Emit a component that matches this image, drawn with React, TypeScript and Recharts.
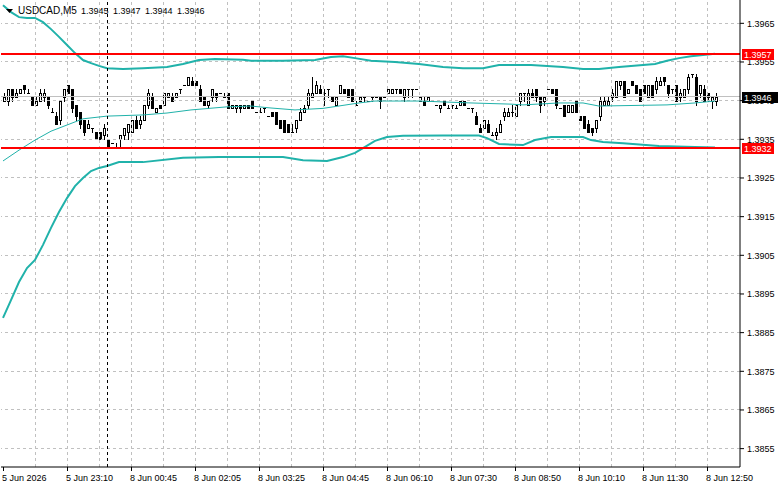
import React from 'react';
import { ComposedChart, Bar, Line, XAxis, YAxis, ReferenceLine } from 'recharts';

const FONT = '"Liberation Sans", Arial, sans-serif';

// [open, high, low, close] per M5 bar
const candles: [number, number, number, number][] = [
  [1.3945, 1.3947, 1.3945, 1.3946], [1.3945, 1.3948, 1.3944, 1.3948], [1.3948, 1.3948, 1.3945, 1.3946], [1.3946, 1.3948, 1.3946, 1.3947],
  [1.3947, 1.3948, 1.3947, 1.3948], [1.3949, 1.3949, 1.3947, 1.3948], [1.3947, 1.3948, 1.3947, 1.3947], [1.3946, 1.3946, 1.3944, 1.3944],
  [1.3944, 1.3946, 1.3944, 1.3945], [1.3945, 1.3948, 1.3945, 1.3947], [1.3946, 1.3948, 1.3945, 1.3947], [1.3946, 1.3946, 1.3943, 1.3944],
  [1.3942, 1.3943, 1.3942, 1.3942], [1.3941, 1.3942, 1.3939, 1.3939], [1.3940, 1.3945, 1.3939, 1.3945], [1.3946, 1.3948, 1.3945, 1.3948],
  [1.3949, 1.3949, 1.3947, 1.3947], [1.3948, 1.3948, 1.3942, 1.3943], [1.3944, 1.3944, 1.3940, 1.3941], [1.3942, 1.3942, 1.3938, 1.3939],
  [1.3940, 1.3940, 1.3936, 1.3937], [1.3938, 1.3940, 1.3938, 1.3939], [1.3938, 1.3938, 1.3937, 1.3938], [1.3937, 1.3937, 1.3935, 1.3935],
  [1.3937, 1.3937, 1.3935, 1.3935], [1.3936, 1.3939, 1.3935, 1.3938], [1.3935, 1.3935, 1.3933, 1.3933], [1.3934, 1.3934, 1.3934, 1.3934],
  [1.3933, 1.3934, 1.3933, 1.3933], [1.3935, 1.3936, 1.3933, 1.3936], [1.3936, 1.3938, 1.3935, 1.3938], [1.3937, 1.3939, 1.3935, 1.3939],
  [1.3937, 1.3940, 1.3937, 1.3940], [1.3940, 1.3941, 1.3938, 1.3938], [1.3939, 1.3941, 1.3938, 1.3940], [1.3940, 1.3944, 1.3940, 1.3944],
  [1.3944, 1.3948, 1.3943, 1.3947], [1.3946, 1.3947, 1.3943, 1.3943], [1.3942, 1.3943, 1.3942, 1.3943], [1.3944, 1.3944, 1.3943, 1.3943],
  [1.3944, 1.3947, 1.3944, 1.3947], [1.3946, 1.3947, 1.3946, 1.3947], [1.3946, 1.3947, 1.3945, 1.3945], [1.3946, 1.3947, 1.3946, 1.3947],
  [1.3948, 1.3948, 1.3947, 1.3948], [1.3949, 1.3949, 1.3949, 1.3949], [1.3949, 1.3951, 1.3949, 1.3951], [1.3950, 1.3951, 1.3949, 1.3949],
  [1.3950, 1.3950, 1.3949, 1.3949], [1.3948, 1.3949, 1.3945, 1.3945], [1.3946, 1.3946, 1.3944, 1.3944], [1.3944, 1.3945, 1.3943, 1.3945],
  [1.3946, 1.3948, 1.3945, 1.3948], [1.3947, 1.3947, 1.3945, 1.3946], [1.3947, 1.3947, 1.3947, 1.3947], [1.3946, 1.3947, 1.3946, 1.3946],
  [1.3947, 1.3947, 1.3943, 1.3943], [1.3943, 1.3944, 1.3943, 1.3944], [1.3943, 1.3944, 1.3942, 1.3944], [1.3944, 1.3944, 1.3942, 1.3943],
  [1.3943, 1.3944, 1.3943, 1.3944], [1.3944, 1.3944, 1.3943, 1.3943], [1.3945, 1.3945, 1.3943, 1.3943], [1.3942, 1.3942, 1.3942, 1.3942],
  [1.3942, 1.3943, 1.3942, 1.3942], [1.3943, 1.3943, 1.3942, 1.3943], [1.3941, 1.3941, 1.3941, 1.3941], [1.3942, 1.3942, 1.3941, 1.3941],
  [1.3942, 1.3942, 1.3939, 1.3939], [1.3940, 1.3940, 1.3938, 1.3938], [1.3940, 1.3940, 1.3937, 1.3937], [1.3939, 1.3939, 1.3937, 1.3937],
  [1.3937, 1.3939, 1.3937, 1.3937], [1.3938, 1.3940, 1.3937, 1.3940], [1.3940, 1.3943, 1.3940, 1.3942], [1.3942, 1.3944, 1.3942, 1.3943],
  [1.3944, 1.3948, 1.3943, 1.3947], [1.3946, 1.3951, 1.3946, 1.3947], [1.3947, 1.3950, 1.3947, 1.3949], [1.3948, 1.3949, 1.3947, 1.3947],
  [1.3947, 1.3948, 1.3944, 1.3947], [1.3948, 1.3948, 1.3946, 1.3948], [1.3946, 1.3946, 1.3945, 1.3945], [1.3944, 1.3946, 1.3944, 1.3946],
  [1.3947, 1.3949, 1.3947, 1.3949], [1.3948, 1.3948, 1.3947, 1.3947], [1.3948, 1.3948, 1.3946, 1.3946], [1.3948, 1.3948, 1.3945, 1.3945],
  [1.3944, 1.3945, 1.3944, 1.3944], [1.3945, 1.3946, 1.3945, 1.3946], [1.3946, 1.3946, 1.3945, 1.3946], [1.3945, 1.3945, 1.3945, 1.3945],
  [1.3946, 1.3946, 1.3945, 1.3946], [1.3946, 1.3946, 1.3946, 1.3946], [1.3946, 1.3946, 1.3943, 1.3945], [1.3946, 1.3946, 1.3946, 1.3946],
  [1.3947, 1.3948, 1.3947, 1.3948], [1.3947, 1.3948, 1.3947, 1.3948], [1.3948, 1.3948, 1.3947, 1.3948], [1.3948, 1.3948, 1.3947, 1.3947],
  [1.3946, 1.3948, 1.3945, 1.3948], [1.3948, 1.3948, 1.3946, 1.3948], [1.3948, 1.3948, 1.3946, 1.3948], [1.3948, 1.3948, 1.3948, 1.3948],
  [1.3945, 1.3946, 1.3945, 1.3946], [1.3945, 1.3946, 1.3944, 1.3944], [1.3945, 1.3946, 1.3945, 1.3946], [1.3945, 1.3945, 1.3945, 1.3945],
  [1.3944, 1.3944, 1.3944, 1.3944], [1.3943, 1.3944, 1.3942, 1.3944], [1.3945, 1.3945, 1.3944, 1.3944], [1.3943, 1.3944, 1.3943, 1.3943],
  [1.3944, 1.3944, 1.3943, 1.3944], [1.3943, 1.3944, 1.3943, 1.3943], [1.3944, 1.3945, 1.3944, 1.3945], [1.3945, 1.3945, 1.3944, 1.3944],
  [1.3943, 1.3943, 1.3943, 1.3943], [1.3943, 1.3943, 1.3942, 1.3943], [1.3941, 1.3942, 1.3939, 1.3939], [1.3938, 1.3939, 1.3937, 1.3937],
  [1.3938, 1.3940, 1.3938, 1.3940], [1.3939, 1.3940, 1.3937, 1.3937], [1.3936, 1.3937, 1.3936, 1.3936], [1.3936, 1.3938, 1.3935, 1.3937],
  [1.3937, 1.3940, 1.3937, 1.3939], [1.3941, 1.3943, 1.3940, 1.3942], [1.3941, 1.3943, 1.3941, 1.3942], [1.3942, 1.3944, 1.3941, 1.3942],
  [1.3941, 1.3944, 1.3941, 1.3944], [1.3945, 1.3947, 1.3944, 1.3947], [1.3947, 1.3947, 1.3945, 1.3947], [1.3944, 1.3948, 1.3944, 1.3947],
  [1.3947, 1.3948, 1.3946, 1.3946], [1.3948, 1.3948, 1.3945, 1.3946], [1.3946, 1.3946, 1.3942, 1.3944], [1.3945, 1.3946, 1.3944, 1.3946],
  [1.3948, 1.3948, 1.3948, 1.3948], [1.3948, 1.3948, 1.3947, 1.3947], [1.3948, 1.3948, 1.3943, 1.3944], [1.3943, 1.3943, 1.3943, 1.3943],
  [1.3944, 1.3944, 1.3941, 1.3941], [1.3942, 1.3944, 1.3942, 1.3944], [1.3942, 1.3944, 1.3942, 1.3944], [1.3945, 1.3945, 1.3942, 1.3942],
  [1.3941, 1.3941, 1.3940, 1.3940], [1.3941, 1.3941, 1.3938, 1.3938], [1.3939, 1.3940, 1.3937, 1.3937], [1.3938, 1.3938, 1.3936, 1.3937],
  [1.3938, 1.3940, 1.3937, 1.3940], [1.3941, 1.3946, 1.3940, 1.3945], [1.3944, 1.3946, 1.3944, 1.3945], [1.3944, 1.3946, 1.3944, 1.3945],
  [1.3946, 1.3948, 1.3945, 1.3947], [1.3946, 1.3950, 1.3946, 1.3950], [1.3949, 1.3950, 1.3948, 1.3950], [1.3950, 1.3950, 1.3946, 1.3946],
  [1.3947, 1.3948, 1.3947, 1.3948], [1.3950, 1.3950, 1.3949, 1.3949], [1.3949, 1.3949, 1.3947, 1.3947], [1.3948, 1.3948, 1.3945, 1.3945],
  [1.3949, 1.3949, 1.3947, 1.3947], [1.3946, 1.3949, 1.3946, 1.3949], [1.3949, 1.3949, 1.3946, 1.3946], [1.3948, 1.3951, 1.3947, 1.3950],
  [1.3949, 1.3951, 1.3949, 1.3950], [1.3951, 1.3951, 1.3949, 1.3950], [1.3949, 1.3949, 1.3946, 1.3947], [1.3948, 1.3948, 1.3947, 1.3948],
  [1.3949, 1.3949, 1.3945, 1.3945], [1.3946, 1.3948, 1.3945, 1.3947], [1.3946, 1.3948, 1.3946, 1.3948], [1.3948, 1.3952, 1.3947, 1.3951],
  [1.3952, 1.3952, 1.3951, 1.3952], [1.3951, 1.3952, 1.3944, 1.3945], [1.3947, 1.3949, 1.3946, 1.3949], [1.3948, 1.3949, 1.3945, 1.3945],
  [1.3947, 1.3947, 1.3945, 1.3946], [1.3945, 1.3946, 1.3943, 1.3946], [1.3945, 1.3947, 1.3944, 1.3946],
];

// Bollinger bands read at [bar index, price]
const upperBand: [number, number][] = [
  [0, 1.39697], [2, 1.39679], [4, 1.39666], [6, 1.39664], [8, 1.39664], [10, 1.39653], [12, 1.39635], [14, 1.39615],
  [16, 1.39594], [18, 1.39573], [20, 1.39555], [22, 1.39547], [24, 1.3954], [26, 1.39534], [30, 1.39532], [35, 1.39534],
  [41, 1.39537], [45, 1.39545], [49, 1.39555], [53, 1.39558], [60, 1.39556], [62, 1.39553], [70, 1.39553], [78, 1.39555],
  [82, 1.39563], [85, 1.39565], [88, 1.3956], [92, 1.39553], [98, 1.3955], [104, 1.39545], [110, 1.39537], [115, 1.39534],
  [120, 1.39534], [124, 1.39542], [132, 1.39542], [140, 1.39537], [145, 1.39532], [149, 1.39532], [154, 1.39537],
  [163, 1.39545], [166, 1.39553], [169, 1.3956], [172, 1.39565], [175, 1.39568], [178, 1.39571],
];
const middleBand: [number, number][] = [
  [0, 1.39294], [4, 1.39322], [8, 1.39348], [12, 1.39371], [16, 1.39387], [20, 1.39403], [26, 1.3941], [35, 1.39413],
  [41, 1.39418], [47, 1.39426], [56, 1.39434], [62, 1.39436], [67, 1.39431], [73, 1.39426], [80, 1.3943], [89, 1.39444],
  [93, 1.39449], [104, 1.39449], [117, 1.39444], [127, 1.39441], [130, 1.39439], [139, 1.39444], [145, 1.39444],
  [149, 1.39436], [166, 1.39439], [173, 1.39444], [178, 1.39449],
];
const lowerBand: [number, number][] = [
  [0, 1.38888], [2, 1.38934], [4, 1.38981], [6, 1.39017], [8, 1.39038], [10, 1.39077], [12, 1.39121], [14, 1.39162],
  [16, 1.39198], [18, 1.39229], [20, 1.3925], [22, 1.39268], [24, 1.39276], [26, 1.39281], [29, 1.39291], [35, 1.39291],
  [45, 1.39302], [54, 1.39304], [70, 1.39304], [75, 1.39296], [81, 1.39294], [85, 1.39304], [88, 1.39315], [90, 1.39327],
  [93, 1.39346], [96, 1.39356], [100, 1.39359], [110, 1.3936], [119, 1.3936], [121, 1.39353], [124, 1.39338],
  [130, 1.39335], [133, 1.39348], [137, 1.39356], [145, 1.39356], [147, 1.39348], [150, 1.39343], [155, 1.3934],
  [164, 1.39333], [173, 1.3933], [178, 1.39329],
];

const timeLabels: [number, string][] = [
  [0, '5 Jun 2026'], [16, '5 Jun 23:10'], [32, '8 Jun 00:45'], [48, '8 Jun 02:05'], [64, '8 Jun 03:25'], [80, '8 Jun 04:45'],
  [96, '8 Jun 06:10'], [112, '8 Jun 07:30'], [128, '8 Jun 08:50'], [144, '8 Jun 10:10'], [160, '8 Jun 11:30'], [176, '8 Jun 12:50'],
];
const priceTicks = [1.3855, 1.3865, 1.3875, 1.3885, 1.3895, 1.3905, 1.3915, 1.3925, 1.3935, 1.3945, 1.3955, 1.3965];
const priceDomain: [number, number] = [1.385025, 1.397103];
const resistanceLevel = 1.3957;
const supportLevel = 1.39327;
const bidPrice = 1.3946;
const separatorBar = 26;
const slotCount = 184;
const gridStep = 8;

const W = 781;
const H = 489;
const AXIS_H = 22;
const PLOT_BOTTOM = H - AXIS_H;
const TEAL = '#20B2AA';
const GRID = '#C0C0C0';

const fmt4 = (v: number) => (Math.floor(v * 10000 + 1e-6) / 10000).toFixed(4);

const toMap = (pts: [number, number][]) => new Map(pts.map(([i, v]) => [i, v]));
const upMap = toMap(upperBand);
const midMap = toMap(middleBand);
const lowMap = toMap(lowerBand);

const rows = Array.from({ length: slotCount }, (_, idx) => {
  const c = candles[idx];
  return {
    idx,
    o: c ? c[0] : null,
    h: c ? c[1] : null,
    l: c ? c[2] : null,
    c: c ? c[3] : null,
    upper: upMap.has(idx) ? upMap.get(idx) : null,
    middle: midMap.has(idx) ? midMap.get(idx) : null,
    lower: lowMap.has(idx) ? lowMap.get(idx) : null,
  };
});

const gridBars: number[] = [];
for (let i = gridStep; i < candles.length; i += gridStep) gridBars.push(i);

const labelMap = new Map(timeLabels);

const CandleShape = (props: any) => {
  const { x, y, width, height, payload } = props;
  if (!payload || payload.o == null || x == null || y == null) return <g />;
  const { o, h, l, c } = payload;
  const cx = Math.round(x + width / 2);
  const span = h - l;
  const ratio = span > 0 ? (height || 0) / span : 0;
  const py = (v: number) => Math.round(y + (h - v) * ratio);
  const yH = py(h);
  const yL = py(l);
  const yO = py(o);
  const yC = py(c);
  const top = Math.min(yO, yC);
  const bot = Math.max(yO, yC);
  const bull = c > o;
  return (
    <g>
      {yL > yH && <line x1={cx + 0.5} x2={cx + 0.5} y1={yH} y2={yL + 1} stroke="#000" strokeWidth={1} />}
      {bot > top ? (
        <rect x={cx - 0.5} y={top + 0.5} width={2} height={bot - top} fill={bull ? '#fff' : '#000'} stroke="#000" strokeWidth={1} />
      ) : (
        <line x1={cx - 1} x2={cx + 2} y1={top + 0.5} y2={top + 0.5} stroke="#000" strokeWidth={1} />
      )}
    </g>
  );
};

const TimeTick = (props: any) => {
  const { x, payload } = props;
  const label = labelMap.get(payload?.value);
  if (label == null) return <g />;
  const px = Math.round(x);
  return (
    <g>
      <line x1={px + 0.5} x2={px + 0.5} y1={PLOT_BOTTOM} y2={PLOT_BOTTOM + 4} stroke="#000" />
      <text x={px - 1} y={PLOT_BOTTOM + 14} fontSize={9} fill="#000" fontFamily={FONT}>
        {label}
      </text>
    </g>
  );
};

const hLine = (color: string, width = 1, dash?: string) => (p: any) => {
  const yy = width % 2 ? Math.floor(p.y1) + 0.5 : Math.round(p.y1);
  return <line x1={p.x1} x2={p.x2} y1={yy} y2={yy} stroke={color} strokeWidth={width} strokeDasharray={dash} />;
};
const vLine = (color: string, dash?: string) => (p: any) => {
  const xx = Math.floor(p.x1 + 0.001) + 0.5;
  return <line x1={xx} x2={xx} y1={p.y1} y2={p.y2} stroke={color} strokeWidth={1} strokeDasharray={dash} />;
};

// price-axis text, drawn as a label of each horizontal gridline
const AxisText = (props: any) => {
  const { viewBox, text } = props;
  if (!viewBox) return <g />;
  return (
    <text x={viewBox.x + viewBox.width + 7} y={viewBox.y + 3.3} fontSize={9} fill="#000" fontFamily={FONT}>
      {text}
    </text>
  );
};

const PriceBox = (props: any) => {
  const { viewBox, text, bg, boxWidth } = props;
  if (!viewBox) return <g />;
  const left = viewBox.x + viewBox.width + 2;
  const cy = Math.round(viewBox.y);
  return (
    <g>
      <rect x={left} y={cy - 5} width={boxWidth} height={11} fill={bg} />
      <text x={left + 2} y={cy + 4} fontSize={9} fill="#fff" fontFamily={FONT}>
        {text}
      </text>
    </g>
  );
};

const lastBar = candles[candles.length - 1];
const titleValues = lastBar.map((v) => v.toFixed(4));

export default function App() {
  return (
    <div style={{ position: 'absolute', left: 0, top: 0, width: W, height: H, background: '#fff', overflow: 'hidden' }}>
      <ComposedChart
        width={W}
        height={H}
        data={rows}
        margin={{ top: 0, right: 0, bottom: 0, left: 1 }}
        style={{ fontFamily: FONT }}
      >
        <XAxis
          dataKey="idx"
          type="category"
          height={AXIS_H}
          interval={0}
          tickLine={false}
          axisLine={{ stroke: '#000' }}
          tick={(p: any) => <TimeTick {...p} />}
          padding={{ left: 0, right: 3 }}
        />
        <YAxis
          orientation="right"
          width={41}
          domain={priceDomain}
          ticks={priceTicks}
          interval={0}
          allowDataOverflow
          tickSize={4}
          tickLine={{ stroke: '#000' }}
          axisLine={{ stroke: '#000' }}
          tick={() => <g />}
        />
        <YAxis yAxisId="frame" orientation="left" width={0} tick={false} tickLine={false} axisLine={{ stroke: '#000' }} />

        {priceTicks.map((t) => (
          <ReferenceLine
            key={'hg' + t}
            y={t}
            stroke={GRID}
            shape={hLine(GRID, 1, '3 3')}
            label={(p: any) => <AxisText {...p} text={t.toFixed(4)} />}
          />
        ))}
        {gridBars.map((i) => (
          <ReferenceLine key={'vg' + i} x={i} stroke={GRID} shape={vLine(GRID, '3 3')} />
        ))}
        <ReferenceLine y={bidPrice} stroke={GRID} shape={hLine(GRID, 1)} />

        <Line dataKey="upper" stroke={TEAL} strokeWidth={2} dot={false} activeDot={false} connectNulls isAnimationActive={false} />
        <Line dataKey="middle" stroke={TEAL} strokeWidth={1} dot={false} activeDot={false} connectNulls isAnimationActive={false} />
        <Line dataKey="lower" stroke={TEAL} strokeWidth={2} dot={false} activeDot={false} connectNulls isAnimationActive={false} />

        <Bar
          dataKey={(d: any) => (d.o == null ? null : [d.l, d.h])}
          barSize={3}
          isAnimationActive={false}
          shape={(p: any) => <CandleShape {...p} />}
        />

        <ReferenceLine x={separatorBar} stroke="#000" shape={vLine('#000', '3 3')} />

        <ReferenceLine
          y={resistanceLevel}
          stroke="#FF0000"
          shape={hLine('#FF0000', 2)}
          label={(p: any) => <PriceBox {...p} text={fmt4(resistanceLevel)} bg="#FF0000" boxWidth={32} />}
        />
        <ReferenceLine
          y={supportLevel}
          stroke="#FF0000"
          shape={hLine('#FF0000', 2)}
          label={(p: any) => <PriceBox {...p} text={fmt4(supportLevel)} bg="#FF0000" boxWidth={32} />}
        />
        <ReferenceLine
          y={bidPrice}
          stroke="none"
          shape={() => <g />}
          label={(p: any) => <PriceBox {...p} text={fmt4(bidPrice)} bg="#000" boxWidth={36} />}
        />
      </ComposedChart>
      <svg width={260} height={18} style={{ position: 'absolute', left: 0, top: 0 }}>
        <polygon points="6,9 13,9 9.5,13" fill="#000" />
        <text x={18} y={14} fontSize={10} fill="#000" fontFamily={FONT}>
          USDCAD,M5
        </text>
        {titleValues.map((v, k) => (
          <text key={k} x={81 + k * 32} y={14} fontSize={9} fill="#000" fontFamily={FONT}>
            {v}
          </text>
        ))}
      </svg>
    </div>
  );
}
